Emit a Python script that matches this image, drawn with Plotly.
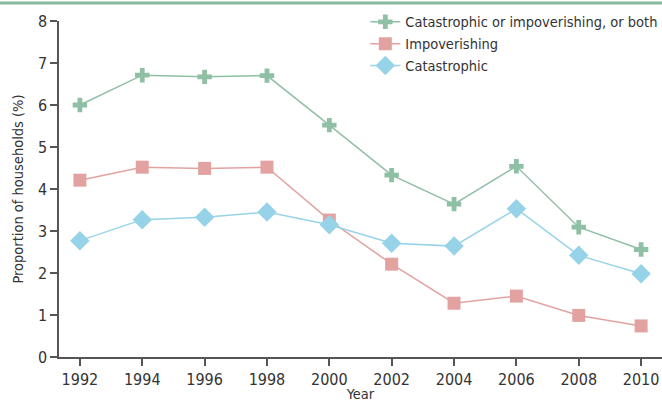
import plotly.graph_objects as go

years = [1992, 1994, 1996, 1998, 2000, 2002, 2004, 2006, 2008, 2010]
both = [6.0, 6.71, 6.67, 6.70, 5.52, 4.33, 3.64, 4.54, 3.09, 2.56]
impoverishing = [4.21, 4.52, 4.49, 4.52, 3.26, 2.21, 1.28, 1.45, 0.99, 0.74]
catastrophic = [2.77, 3.27, 3.33, 3.45, 3.15, 2.71, 2.64, 3.53, 2.42, 1.98]
y_ticks = [0, 1, 2, 3, 4, 5, 6, 7, 8]

GREEN = "#8fbfa4"
RED = "#e2a3a0"
BLUE = "#97d3e8"
FONT = "DejaVu Sans Condensed, Roboto, sans-serif"

fig = go.Figure()
fig.add_trace(go.Scatter(x=years, y=both, mode="lines+markers",
                         name="Catastrophic or impoverishing, or both",
                         line=dict(color=GREEN, width=1.5),
                         marker=dict(symbol="cross", size=12, color=GREEN)))
fig.add_trace(go.Scatter(x=years, y=impoverishing, mode="lines+markers",
                         name="Impoverishing",
                         line=dict(color=RED, width=1.5),
                         marker=dict(symbol="square", size=13, color=RED)))
fig.add_trace(go.Scatter(x=years, y=catastrophic, mode="lines+markers",
                         name="Catastrophic",
                         line=dict(color=BLUE, width=1.5),
                         marker=dict(symbol="diamond", size=15, color=BLUE)))

fig.update_layout(
    width=662, height=402,
    margin=dict(l=59, r=0, t=21, b=45, autoexpand=False),
    paper_bgcolor="white", plot_bgcolor="white",
    font=dict(family=FONT, size=16, color="#333333"),
    showlegend=True,
    legend=dict(x=0.508, y=1.045, xanchor="left", yanchor="top",
                bgcolor="rgba(0,0,0,0)", font=dict(size=14.5, color="#333333"),
                tracegroupgap=0, itemwidth=30),
    xaxis=dict(range=[1991.33, 2010.67], tickvals=years, automargin=False,
               ticks="outside", ticklen=7, tickcolor="#555555", tickwidth=1.5,
               showline=True, linecolor="#555555", linewidth=1.5,
               showgrid=False, zeroline=False,
               tickfont=dict(size=16),
               title=dict(text="Year", font=dict(size=14.5), standoff=4)),
    yaxis=dict(range=[0, 8], tickvals=y_ticks, automargin=False,
               ticks="outside", ticklen=7, tickcolor="#555555", tickwidth=1.5,
               showline=True, linecolor="#555555", linewidth=1.5,
               showgrid=False, zeroline=False,
               tickfont=dict(size=16),
               title=dict(text="Proportion of households (%)", font=dict(size=14.5), standoff=11)),
    shapes=[dict(type="line", xref="paper", yref="paper",
                 x0=-0.1, x1=1, y0=1.0536, y1=1.0536,
                 line=dict(color="#86b89c", width=3))],
)
fig.write_html("out.html",
               config={"displayModeBar": False},
               post_script="document.body.style.margin='0';document.body.style.overflow='hidden';")
